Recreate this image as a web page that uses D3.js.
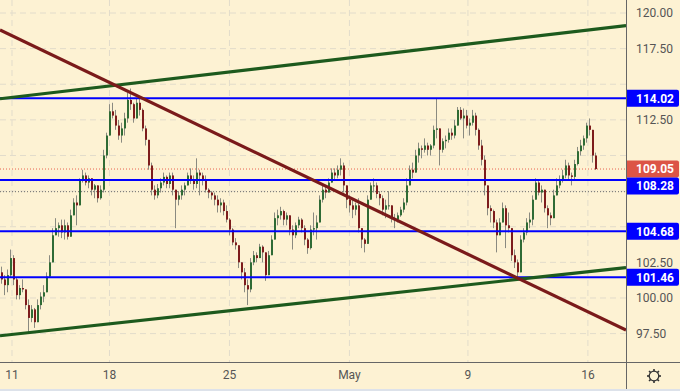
<!DOCTYPE html>
<html>
<head>
<meta charset="utf-8">
<script src="https://cdn.jsdelivr.net/npm/d3@7"></script>
<style>
html, body { margin: 0; padding: 0; background: #fdf2d3; }
svg { display: block; font-family: Roboto, "Liberation Sans", Arial, sans-serif; }
</style>
</head>
<body>
<svg id="chart" width="680" height="391"></svg>
<script>
"use strict";

// hourly-ish bars, [high, low, close]; open = previous close
const firstOpen = 101.8;
const bars = [
  [102.2,101.0,101.3],[101.6,100.2,100.9],[102.0,100.4,101.6],[103.4,101.4,102.8],[103.0,100.9,101.3],
  [101.4,99.9,100.2],[100.9,99.9,100.7],[101.3,100.4,100.6],[100.6,99.2,99.5],[99.9,97.5,98.6],
  [99.5,98.3,99.2],[99.3,97.9,98.3],[99.9,98.5,99.5],[100.4,99.2,100.1],[100.9,99.7,100.4],
  [101.8,100.4,101.5],[103.0,101.4,102.5],[104.9,102.5,104.4],[105.6,104.4,104.9],[105.3,104.3,105.1],
  [105.5,104.2,104.6],[105.5,104.1,105.1],[105.3,104.1,104.3],[106.2,104.4,105.8],[107.0,105.8,106.7],
  [107.2,105.1,106.5],[108.4,106.5,108.3],[109.0,108.1,108.6],[108.8,107.9,108.1],[108.6,107.7,108.4],
  [108.4,107.2,107.6],[108.0,107.0,107.9],[107.7,106.7,107.0],[107.9,106.9,107.6],[110.4,107.4,110.0],
  [111.6,109.8,111.4],[113.6,111.4,113.1],[113.7,112.6,112.8],[113.2,111.8,112.1],[112.5,111.1,111.4],
  [112.3,110.9,111.9],[113.0,111.4,112.6],[114.4,112.3,113.9],[114.7,113.2,113.6],[113.7,112.3,112.6],
  [114.0,112.6,113.7],[114.0,112.8,113.2],[113.3,111.7,111.9],[112.1,110.7,111.1],[111.1,109.0,109.3],
  [109.5,107.2,107.6],[107.9,106.9,107.2],[108.0,107.0,107.7],[108.4,107.4,108.1],[108.8,107.9,108.5],
  [108.6,107.7,108.0],[108.8,107.7,108.6],[108.8,107.2,107.6],[107.5,104.9,106.9],[107.5,106.5,107.2],
  [107.9,106.9,107.6],[108.1,107.2,107.9],[108.8,107.9,108.6],[109.1,108.0,108.3],[108.6,107.6,108.0],
  [109.8,107.7,108.8],[109.0,107.2,108.6],[108.8,107.9,108.3],[108.6,107.4,107.6],[107.7,107.0,107.4],
  [107.5,106.9,107.2],[107.4,106.5,106.9],[107.2,106.0,106.5],[107.0,106.0,106.7],[106.9,105.8,106.1],
  [106.5,105.3,105.5],[105.6,104.4,104.8],[104.9,103.7,103.9],[104.2,103.4,103.7],[103.7,102.1,102.5],
  [102.5,101.3,101.8],[102.1,100.4,100.9],[101.3,99.5,100.6],[102.8,100.4,102.5],[103.3,102.3,103.0],
  [103.2,102.5,102.8],[103.8,102.9,103.6],[103.7,102.5,103.2],[103.0,101.2,101.6],[103.3,102.0,103.0],
  [104.4,103.0,104.1],[106.0,104.1,105.6],[106.2,105.1,105.8],[106.4,105.5,106.1],[106.2,105.1,105.5],
  [106.0,105.1,105.8],[105.5,104.4,104.8],[105.1,103.4,104.4],[105.3,104.2,105.1],[105.7,104.9,105.5],
  [105.6,104.6,104.9],[105.1,103.7,104.1],[104.2,103.1,103.5],[105.1,103.4,104.8],[106.0,104.4,104.9],
  [105.8,104.1,105.3],[107.2,105.6,106.9],[107.9,106.7,107.6],[107.9,107.0,107.4],[108.4,107.6,108.1],
  [109.1,108.1,108.8],[109.1,108.3,108.6],[109.3,108.4,109.0],[109.8,108.6,109.3],[109.5,107.4,107.9],
  [107.9,106.3,106.9],[107.2,106.0,106.5],[106.9,105.6,106.2],[106.7,105.8,106.5],[107.0,104.6,104.9],
  [104.9,103.5,104.1],[104.2,103.2,103.8],[107.2,104.1,106.9],[108.1,107.0,107.9],[108.4,107.4,107.9],
  [108.1,107.0,107.3],[107.5,106.5,107.0],[107.2,105.8,106.2],[106.9,105.6,106.5],[107.5,106.2,106.5],
  [106.5,105.3,105.6],[105.9,104.9,105.5],[106.0,105.3,105.8],[106.4,105.7,106.2],[107.0,106.0,106.7],
  [108.4,106.5,107.9],[109.3,107.9,109.0],[109.5,108.4,108.8],[110.4,108.8,110.0],[110.9,109.5,110.5],
  [110.7,109.8,110.4],[111.2,110.2,110.7],[110.9,110.0,110.4],[110.8,110.0,110.7],[112.1,110.5,111.8],
  [114.0,111.2,111.9],[111.8,109.3,110.4],[111.2,110.2,111.0],[111.4,110.5,111.1],[111.9,110.9,111.6],
  [111.9,111.1,111.4],[112.5,111.2,112.1],[113.4,112.1,113.2],[113.4,112.5,112.6],[113.3,111.2,112.8],
  [113.2,111.9,112.1],[112.6,111.4,112.3],[113.2,112.1,112.8],[113.0,111.4,111.8],[111.9,110.4,110.7],
  [111.1,109.3,109.7],[110.0,107.2,107.9],[107.9,105.8,106.3],[106.5,105.3,106.1],[106.2,104.9,105.3],
  [105.5,103.2,104.4],[105.6,104.4,105.3],[106.7,105.3,106.3],[106.5,103.5,105.1],[106.0,104.6,104.9],
  [104.9,102.6,103.0],[103.4,102.1,102.5],[102.7,101.5,101.8],[104.4,101.8,104.1],[104.9,103.9,104.6],
  [105.6,104.4,105.3],[106.0,104.9,105.5],[107.2,105.1,106.9],[108.4,106.9,108.1],[108.2,107.2,107.4],
  [107.9,106.7,107.6],[107.4,106.0,106.3],[106.5,104.9,105.8],[106.0,105.1,105.6],[107.6,105.6,107.2],
  [108.4,107.2,107.9],[108.6,107.7,108.3],[109.0,108.1,108.6],[109.7,108.4,109.3],[109.5,108.3,108.6],
  [108.8,107.9,108.5],[109.7,108.3,109.4],[110.6,109.3,110.3],[111.1,110.0,110.7],[111.4,110.4,111.2],
  [112.3,110.9,112.1],[112.6,111.4,111.8],[111.8,109.5,110.0],[110.2,108.98,109.05]
];

const dateTicks = [3.5, 36, 76, 116, 155.5, 195.5];
const dateLabels = ["11", "18", "25", "May", "9", "16"];
const priceTicks = [97.5, 100, 102.5, 105, 107.5, 110, 112.5, 115, 117.5, 120];
const levels = [114.02, 108.28, 104.68, 101.46];
const lastPrice = 109.05;
const prevClose = 107.46;
// trend lines: [[bar, price], [bar, price]]
const greenLines = [
  [[-0.5, 113.98], [208.2, 119.11]],
  [[-0.5, 97.35], [208.2, 102.13]]
];
const redLines = [
  [[-0.5, 118.81], [208.2, 97.75]]
];

const plotW = 626, plotH = 362;
const xScale = d3.scaleLinear().domain([-0.5, 208.2]).range([0, plotW]);
const yScale = d3.scaleLinear().domain([97.5, 120]).range([333.6, 13]);

const svg = d3.select("#chart");

svg.append("rect").attr("width", 680).attr("height", 391).attr("fill", "#fdf2d3");
svg.append("defs").append("clipPath").attr("id", "plotclip")
  .append("rect").attr("width", plotW).attr("height", plotH);

const plot = svg.append("g").attr("clip-path", "url(#plotclip)");

// grid
plot.selectAll("line.hgrid").data(priceTicks).join("line")
  .attr("class", "hgrid")
  .attr("x1", 0).attr("x2", plotW)
  .attr("y1", d => yScale(d)).attr("y2", d => yScale(d))
  .attr("stroke", "#e2dccb").attr("stroke-dasharray", "6,4");
plot.selectAll("line.vgrid").data(dateTicks).join("line")
  .attr("class", "vgrid")
  .attr("x1", d => xScale(d)).attr("x2", d => xScale(d))
  .attr("y1", 0).attr("y2", plotH)
  .attr("stroke", "#e2dccb").attr("stroke-dasharray", "6,4");

// candles
const candles = bars.map((b, i) => {
  const open = i === 0 ? firstOpen : bars[i - 1][2];
  return { i, open, high: b[0], low: b[1], close: b[2] };
});
const upCol = "#2f6b35", downCol = "#7d1c1c", wickCol = "#8a8a80";

plot.selectAll("line.wick").data(candles).join("line")
  .attr("class", "wick")
  .attr("x1", d => Math.round(xScale(d.i)) + 0.5).attr("x2", d => Math.round(xScale(d.i)) + 0.5)
  .attr("y1", d => yScale(Math.max(d.high, d.open, d.close)))
  .attr("y2", d => yScale(Math.min(d.low, d.open, d.close)))
  .attr("stroke", wickCol).attr("stroke-width", 1);

plot.selectAll("rect.body").data(candles).join("rect")
  .attr("class", "body")
  .attr("x", d => Math.round(xScale(d.i)))
  .attr("width", 2)
  .attr("y", d => yScale(Math.max(d.open, d.close)))
  .attr("height", d => Math.max(1, Math.abs(yScale(d.open) - yScale(d.close))))
  .attr("fill", d => d.close >= d.open ? upCol : downCol);

// dotted price lines
plot.append("line")
  .attr("x1", 0).attr("x2", plotW)
  .attr("y1", yScale(prevClose)).attr("y2", yScale(prevClose))
  .attr("stroke", "#6b6b6b").attr("stroke-dasharray", "1,2");
plot.append("line")
  .attr("x1", 0).attr("x2", plotW)
  .attr("y1", yScale(lastPrice)).attr("y2", yScale(lastPrice))
  .attr("stroke", "#e8624f").attr("stroke-dasharray", "1,2");

// horizontal levels
plot.selectAll("line.level").data(levels).join("line")
  .attr("class", "level")
  .attr("x1", 0).attr("x2", plotW)
  .attr("y1", d => yScale(d)).attr("y2", d => yScale(d))
  .attr("stroke", "#0000ff").attr("stroke-width", 2);

// trend lines
const trend = d3.line().x(d => xScale(d[0])).y(d => yScale(d[1]));
plot.selectAll("path.green").data(greenLines).join("path")
  .attr("class", "green").attr("d", trend)
  .attr("fill", "none").attr("stroke", "#1d5a1d").attr("stroke-width", 3.2);
plot.selectAll("path.red").data(redLines).join("path")
  .attr("class", "red").attr("d", trend)
  .attr("fill", "none").attr("stroke", "#7a1a1a").attr("stroke-width", 3.2);

// axes frame
svg.append("line").attr("x1", plotW + 0.5).attr("x2", plotW + 0.5).attr("y1", 0).attr("y2", 389)
  .attr("stroke", "#666");
svg.append("line").attr("x1", 0).attr("x2", 680).attr("y1", plotH + 0.5).attr("y2", plotH + 0.5)
  .attr("stroke", "#666");
svg.append("rect").attr("x", 0).attr("y", 389).attr("width", 680).attr("height", 2).attr("fill", "#dde2ea");

// price tags with simple overlap push-down
const tags = levels.map(v => ({ v, color: "#0000ff" }))
  .concat([{ v: lastPrice, color: "#dc5446" }])
  .sort((a, b) => b.v - a.v);
let prevY = -100;
tags.forEach(t => {
  let cy = yScale(t.v);
  if (cy < prevY + 17) cy = prevY + 17;
  t.cy = cy;
  prevY = cy;
});

// price axis labels (hidden where a tag covers them)
const freeTicks = priceTicks.filter(p => tags.every(t => Math.abs(yScale(p) - t.cy) > 14));
svg.selectAll("text.ptick").data(freeTicks).join("text")
  .attr("class", "ptick")
  .attr("x", 636).attr("y", d => yScale(d))
  .attr("dy", "0.35em")
  .attr("font-size", 12).attr("fill", "#555")
  .text(d => d.toFixed(2));

// date labels
svg.selectAll("text.dtick").data(dateTicks).join("text")
  .attr("class", "dtick")
  .attr("x", d => xScale(d)).attr("y", 375)
  .attr("dy", "0.35em").attr("text-anchor", "middle")
  .attr("font-size", 12).attr("fill", "#555")
  .text((d, i) => dateLabels[i]);

const tagG = svg.selectAll("g.tag").data(tags).join("g")
  .attr("class", "tag")
  .attr("transform", d => `translate(${plotW + 1},${d.cy})`);
tagG.append("path")
  .attr("d", "M0,-8.5 H50 Q52,-8.5 52,-6.5 V6.5 Q52,8.5 50,8.5 H0 Z")
  .attr("fill", d => d.color);
tagG.append("text")
  .attr("x", 9).attr("dy", "0.36em")
  .attr("font-size", 12).attr("font-weight", "bold").attr("fill", "#fff")
  .text(d => d.v.toFixed(2));

// settings gear
const gear = svg.append("g").attr("transform", "translate(654,376)");
gear.selectAll("line").data(d3.range(8)).join("line")
  .attr("x1", d => Math.cos(d * Math.PI / 4) * 4).attr("y1", d => Math.sin(d * Math.PI / 4) * 4)
  .attr("x2", d => Math.cos(d * Math.PI / 4) * 7).attr("y2", d => Math.sin(d * Math.PI / 4) * 7)
  .attr("stroke", "#333").attr("stroke-width", 1.6);
gear.append("circle").attr("r", 4.8).attr("fill", "#fdf2d3").attr("stroke", "#333").attr("stroke-width", 1.3);
</script>
</body>
</html>
